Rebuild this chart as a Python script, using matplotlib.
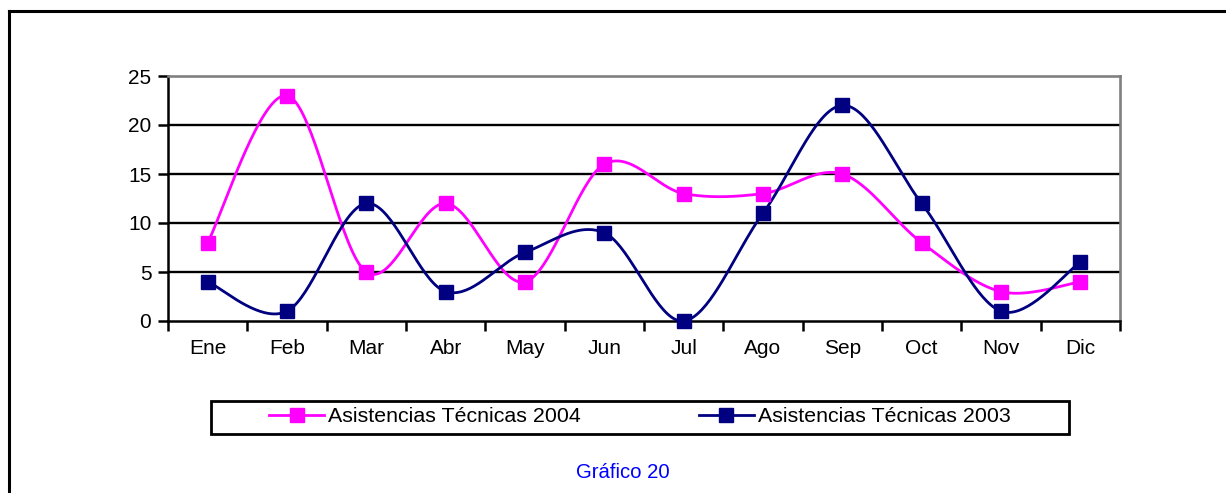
import numpy as np
import matplotlib
matplotlib.use('Agg')
import matplotlib.pyplot as plt
from matplotlib.lines import Line2D
from matplotlib.patches import Rectangle

plt.rcParams['font.family'] = ['Liberation Sans', 'DejaVu Sans']

# datos
meses = ['Ene', 'Feb', 'Mar', 'Abr', 'May', 'Jun', 'Jul', 'Ago', 'Sep', 'Oct', 'Nov', 'Dic']
asist_2004 = [8, 23, 5, 12, 4, 16, 13, 13, 15, 8, 3, 4]
asist_2003 = [4, 1, 12, 3, 7, 9, 0, 11, 22, 12, 1, 6]
etiquetas = ['Asistencias Técnicas 2004', 'Asistencias Técnicas 2003']
colores = ['#FF00FF', '#000080']
yticks = [0, 5, 10, 15, 20, 25]
titulo = 'Gráfico 20'

W, H = 1226, 493


def suavizar(y, n=40):
    # curva suavizada tipo Excel (Bezier con tangentes Catmull-Rom)
    x = np.arange(len(y), dtype=float)
    y = np.asarray(y, dtype=float)
    px = np.concatenate(([x[0]], x, [x[-1]]))
    py = np.concatenate(([y[0]], y, [y[-1]]))
    t = np.linspace(0, 1, n)
    xs, ys = [], []
    for i in range(1, len(px) - 2):
        p0 = np.array([px[i], py[i]])
        p3 = np.array([px[i + 1], py[i + 1]])
        c1 = p0 + (np.array([px[i + 1], py[i + 1]]) - np.array([px[i - 1], py[i - 1]])) / 6
        c2 = p3 - (np.array([px[i + 2], py[i + 2]]) - np.array([px[i], py[i]])) / 6
        b = ((1 - t) ** 3)[:, None] * p0 + (3 * (1 - t) ** 2 * t)[:, None] * c1 \
            + (3 * (1 - t) * t ** 2)[:, None] * c2 + (t ** 3)[:, None] * p3
        xs.append(b[:, 0])
        ys.append(b[:, 1])
    return np.concatenate(xs), np.concatenate(ys)


fig = plt.figure(figsize=(W / 100, H / 100), dpi=100)
ax = fig.add_axes([168 / W, 1 - 321 / H, (1120 - 168) / W, (321 - 76) / H])

x = np.arange(len(meses))
for serie, col, lab in zip([asist_2004, asist_2003], colores, etiquetas):
    sx, sy = suavizar(serie)
    ax.plot(sx, sy, color=col, lw=2.0, clip_on=False, zorder=3)
    ax.plot(x, serie, ls='none', marker='s', ms=10.5, color=col, mec=col, clip_on=False, zorder=4)

ax.set_xlim(-0.5, len(meses) - 0.5)
ax.set_ylim(0, 25)
ax.set_yticks(yticks)
ax.set_xticks(x)
ax.set_xticklabels(meses)
ax.set_xticks(np.arange(len(meses) + 1) - 0.5, minor=True)
ax.tick_params(axis='x', which='major', length=0, pad=13, labelsize=15)
ax.tick_params(axis='x', which='minor', length=7, width=1.8, direction='out', color='k')
ax.tick_params(axis='y', length=7, width=1.8, direction='out', pad=5, labelsize=15)

for yv in yticks[1:-1]:
    ax.axhline(yv, color='black', lw=1.7, zorder=1)

ax.spines['left'].set_linewidth(1.8)
ax.spines['bottom'].set_linewidth(1.8)
ax.spines['top'].set_color('#808080')
ax.spines['right'].set_color('#808080')
ax.spines['top'].set_linewidth(1.9)
ax.spines['right'].set_linewidth(1.9)

# leyenda
handles = [Line2D([], [], color=c, lw=2.0, marker='s', ms=10.5, mec=c) for c in colores]
fig.legend(handles, etiquetas, loc='center', bbox_to_anchor=(640 / W, 1 - 417 / H),
           ncol=2, frameon=False, fontsize=15.4, handlelength=2.57, handletextpad=0.2,
           columnspacing=5.5)
fig.add_artist(Rectangle((211 / W, 1 - 434 / H), (1069 - 211) / W, 33 / H,
                         transform=fig.transFigure, fill=False, ec='black', lw=2.0))

fig.text(623 / W, 1 - 472 / H, titulo, color='#0000FF', fontsize=14.6, ha='center', va='center')

# marco exterior
fig.add_artist(Line2D([9 / W, 1], [1 - 11 / H, 1 - 11 / H], transform=fig.transFigure, color='k', lw=2.2))
fig.add_artist(Line2D([9 / W, 9 / W], [0, 1 - 11 / H], transform=fig.transFigure, color='k', lw=2.2))

fig.savefig('out.png', dpi=100)
